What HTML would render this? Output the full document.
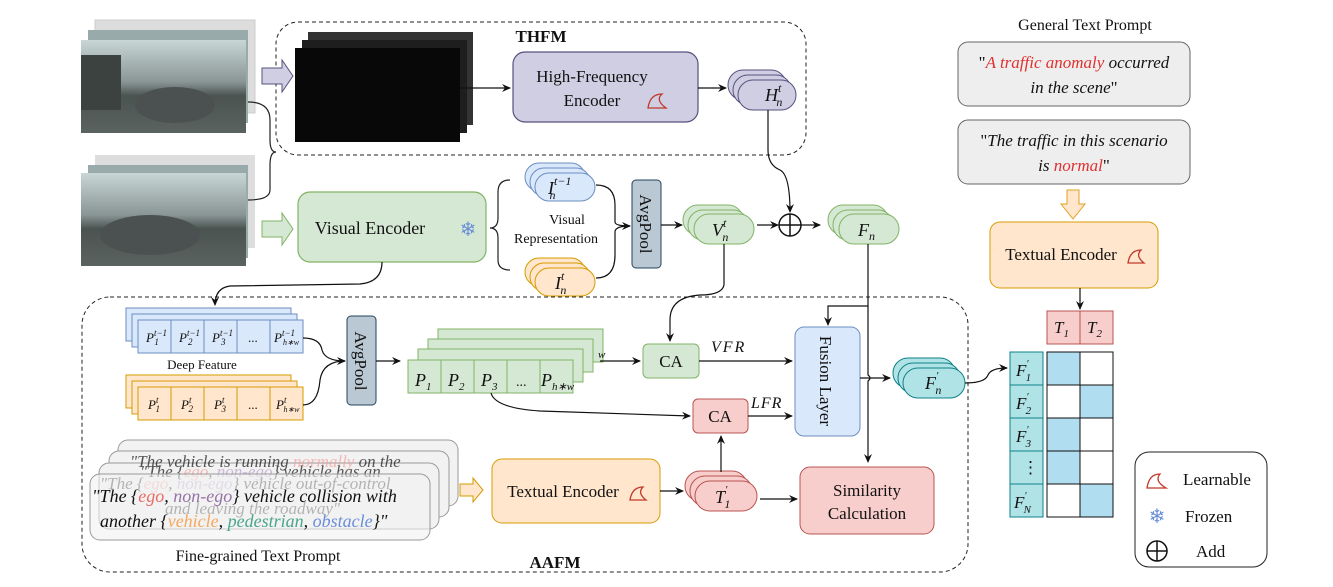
<!DOCTYPE html>
<html><head><meta charset="utf-8"><style>
body{margin:0;background:#fff}
svg text{font-family:"Liberation Serif",serif;fill:#111}
.it{font-style:italic}
</style></head><body>
<svg width="1333" height="582" viewBox="0 0 1333 582" xmlns="http://www.w3.org/2000/svg">
<defs>
<marker id="a" markerWidth="10" markerHeight="10" refX="8" refY="5" orient="auto" markerUnits="userSpaceOnUse"><path d="M0,1 L9,5 L0,9 L3,5 Z" fill="#111"/></marker>
<linearGradient id="sky" x1="0" y1="0" x2="0" y2="1"><stop offset="0" stop-color="#c9d6d6"/><stop offset="0.45" stop-color="#8a9696"/><stop offset="0.6" stop-color="#4a5350"/><stop offset="1" stop-color="#5a6360"/></linearGradient>
</defs>
<!-- camera frames top -->
<rect x="95" y="20" width="160" height="93" fill="#ddd" stroke="#ccc"/>
<rect x="88" y="30" width="160" height="93" fill="#9aa" />
<rect x="81" y="40" width="165" height="93" fill="url(#sky)"/>
<rect x="81" y="55" width="40" height="55" fill="#3c4240"/>
<ellipse cx="175" cy="105" rx="40" ry="18" fill="#4b5150"/>
<rect x="95" y="155" width="160" height="93" fill="#ddd"/>
<rect x="88" y="165" width="160" height="93" fill="#9aa"/>
<rect x="81" y="173" width="165" height="93" fill="url(#sky)"/>
<ellipse cx="150" cy="235" rx="50" ry="20" fill="#4b5150"/>
<!-- brace from images -->
<path d="M248,102 Q270,102 270,120 L270,140 Q270,152 276,152 Q270,152 270,165 L270,190 Q270,200 248,200" fill="none" stroke="#222" stroke-width="1.2"/>
<!-- THFM -->
<rect x="276" y="22" width="530" height="133" rx="22" fill="none" stroke="#222" stroke-dasharray="4,3"/>
<text x="541" y="42" font-weight="bold" font-size="17" text-anchor="middle">THFM</text>
<rect x="308" y="32" width="165" height="93" fill="#333"/>
<rect x="302" y="40" width="165" height="93" fill="#1e1e1e"/>
<rect x="295" y="48" width="165" height="94" fill="#080808"/>
<path d="M262,68 L282,68 L282,60 L293,76 L282,92 L282,84 L262,84 Z" fill="#d0cee3" stroke="#56517e"/>
<line x1="460" y1="88" x2="510" y2="88" stroke="#111" stroke-width="1.2" marker-end="url(#a)"/>
<rect x="513" y="52" width="185" height="70" rx="12" fill="#d0cee3" stroke="#56517e" stroke-width="1.2"/>
<text x="592" y="82" font-size="17" text-anchor="middle">High-Frequency</text>
<text x="592" y="106" font-size="17" text-anchor="middle">Encoder</text>
<path d="M648,108 Q650,94 662,94 Q655,100 666,108 Z" fill="none" stroke="#c0392b" stroke-width="1.3"/>
<line x1="698" y1="88" x2="726" y2="88" stroke="#111" stroke-width="1.2" marker-end="url(#a)"/>
<g fill="#d0cee3" stroke="#56517e"><rect x="728" y="70" width="58" height="30" rx="15"/><rect x="733" y="75" width="58" height="30" rx="15"/><rect x="738" y="80" width="58" height="30" rx="15"/></g>
<text x="765" y="101" font-size="18" class="it">H<tspan font-size="12" dy="-9">t</tspan><tspan font-size="12" dx="-5" dy="14">n</tspan></text>
<path d="M768,110 L768,150 Q768,165 780,170 Q790,175 790,212" fill="none" stroke="#111" stroke-width="1.2" marker-end="url(#a)"/>
<!-- visual encoder -->
<path d="M262,221 L282,221 L282,213 L293,229 L282,245 L282,237 L262,237 Z" fill="#d5e8d4" stroke="#82b366"/>
<rect x="298" y="192" width="188" height="70" rx="12" fill="#d5e8d4" stroke="#82b366" stroke-width="1.2"/>
<text x="370" y="234" font-size="18" text-anchor="middle">Visual Encoder</text>
<text x="468" y="236" font-size="20" fill="#5b7fc9" text-anchor="middle" style="fill:#6a8fd6">❄</text>
<path d="M510,180 Q498,180 498,192 L498,218 Q498,228 490,228 Q498,228 498,238 L498,260 Q498,270 510,270" fill="none" stroke="#222" stroke-width="1.2"/>
<g fill="#dae8fc" stroke="#6c8ebf"><rect x="525" y="163" width="60" height="28" rx="14"/><rect x="530" y="168" width="60" height="28" rx="14"/><rect x="535" y="173" width="60" height="28" rx="14"/></g>
<text x="548" y="194" font-size="18" class="it">I<tspan font-size="12" dy="-9">t−1</tspan><tspan font-size="12" dx="-22" dy="14">n</tspan></text>
<text x="567" y="224" font-size="14" text-anchor="middle">Visual</text>
<text x="556" y="243" font-size="14" text-anchor="middle">Representation</text>
<g fill="#ffe6cc" stroke="#d79b00"><rect x="525" y="258" width="60" height="28" rx="14"/><rect x="530" y="263" width="60" height="28" rx="14"/><rect x="535" y="268" width="60" height="28" rx="14"/></g>
<text x="555" y="289" font-size="18" class="it">I<tspan font-size="12" dy="-9">t</tspan><tspan font-size="12" dx="-4" dy="14">n</tspan></text>
<path d="M596,185 Q615,185 615,205 L615,222 Q615,226 630,226" fill="none" stroke="#111" stroke-width="1.2" marker-end="url(#a)"/>
<path d="M596,278 Q615,278 615,255 L615,232 Q615,226 630,226" fill="none" stroke="#111" stroke-width="1.2"/>
<rect x="632" y="180" width="29" height="88" rx="4" fill="#bac8d3" stroke="#23445d"/>
<text transform="translate(640,224) rotate(90)" font-size="17" text-anchor="middle">AvgPool</text>
<line x1="661" y1="225" x2="682" y2="225" stroke="#111" stroke-width="1.2" marker-end="url(#a)"/>
<g fill="#d5e8d4" stroke="#82b366"><rect x="683" y="205" width="60" height="30" rx="15"/><rect x="688" y="210" width="60" height="30" rx="15"/><rect x="694" y="214" width="60" height="30" rx="15"/></g>
<text x="712" y="236" font-size="18" class="it">V<tspan font-size="12" dy="-9">t</tspan><tspan font-size="12" dx="-4" dy="14">n</tspan></text>
<line x1="757" y1="225" x2="778" y2="225" stroke="#111" stroke-width="1.2" marker-end="url(#a)"/>
<circle cx="790" cy="225" r="11" fill="none" stroke="#111" stroke-width="1.5"/>
<line x1="779" y1="225" x2="801" y2="225" stroke="#111" stroke-width="1.5"/><line x1="790" y1="214" x2="790" y2="236" stroke="#111" stroke-width="1.5"/>
<line x1="801" y1="225" x2="820" y2="225" stroke="#111" stroke-width="1.2" marker-end="url(#a)"/>
<g fill="#d5e8d4" stroke="#82b366"><rect x="828" y="205" width="60" height="30" rx="15"/><rect x="833" y="210" width="60" height="30" rx="15"/><rect x="839" y="214" width="60" height="30" rx="15"/></g>
<text x="858" y="236" font-size="18" class="it">F<tspan font-size="12" dy="4">n</tspan></text>
<!-- AAFM -->
<rect x="82" y="297" width="886" height="275" rx="28" fill="none" stroke="#222" stroke-dasharray="4,3"/>
<text x="555" y="568" font-weight="bold" font-size="17" text-anchor="middle">AAFM</text>
<path d="M382,262 Q382,282 360,284 L230,286 Q215,288 215,305" fill="none" stroke="#111" stroke-width="1.2" marker-end="url(#a)"/>
<!-- deep feature grids -->
<g stroke="#6c8ebf" fill="#dae8fc">
<rect x="126" y="308" width="165" height="33"/><rect x="132" y="314" width="165" height="33"/><rect x="138" y="320" width="165" height="33"/>
</g>
<g stroke="#6c8ebf"><line x1="171" y1="320" x2="171" y2="353"/><line x1="204" y1="320" x2="204" y2="353"/><line x1="237" y1="320" x2="237" y2="353"/><line x1="270" y1="320" x2="270" y2="353"/></g>
<g font-size="13" class="it"><text x="146" y="342">P<tspan font-size="9" dy="-6">t−1</tspan><tspan font-size="9" dx="-12" dy="9">1</tspan></text><text x="179" y="342">P<tspan font-size="9" dy="-6">t−1</tspan><tspan font-size="9" dx="-12" dy="9">2</tspan></text><text x="212" y="342">P<tspan font-size="9" dy="-6">t−1</tspan><tspan font-size="9" dx="-12" dy="9">3</tspan></text><text x="248" y="342" font-style="normal">...</text><text x="274" y="342">P<tspan font-size="9" dy="-6">t−1</tspan><tspan font-size="8" dx="-12" dy="9">h∗w</tspan></text></g>
<text x="202" y="369" font-size="13" text-anchor="middle">Deep Feature</text>
<g stroke="#d79b00" fill="#ffe6cc">
<rect x="126" y="375" width="165" height="33"/><rect x="132" y="381" width="165" height="33"/><rect x="138" y="387" width="165" height="33"/>
</g>
<g stroke="#d79b00"><line x1="171" y1="387" x2="171" y2="420"/><line x1="204" y1="387" x2="204" y2="420"/><line x1="237" y1="387" x2="237" y2="420"/><line x1="270" y1="387" x2="270" y2="420"/></g>
<g font-size="13" class="it"><text x="148" y="409">P<tspan font-size="9" dy="-6">t</tspan><tspan font-size="9" dx="-3" dy="9">1</tspan></text><text x="181" y="409">P<tspan font-size="9" dy="-6">t</tspan><tspan font-size="9" dx="-3" dy="9">2</tspan></text><text x="214" y="409">P<tspan font-size="9" dy="-6">t</tspan><tspan font-size="9" dx="-3" dy="9">3</tspan></text><text x="248" y="409" font-style="normal">...</text><text x="276" y="409">P<tspan font-size="9" dy="-6">t</tspan><tspan font-size="8" dx="-3" dy="9">h∗w</tspan></text></g>
<path d="M303,338 Q320,338 322,350 Q325,361 345,361" fill="none" stroke="#111" stroke-width="1.2" marker-end="url(#a)"/>
<path d="M303,405 Q318,405 320,380 Q323,361 345,361" fill="none" stroke="#111" stroke-width="1.2"/>
<rect x="347" y="316" width="29" height="89" rx="4" fill="#bac8d3" stroke="#23445d"/>
<text transform="translate(355,361) rotate(90)" font-size="17" text-anchor="middle">AvgPool</text>
<line x1="376" y1="361" x2="400" y2="361" stroke="#111" stroke-width="1.2" marker-end="url(#a)"/>
<!-- green grid -->
<g stroke="#82b366" fill="#d5e8d4">
<rect x="438" y="329" width="165" height="33"/><rect x="428" y="339" width="165" height="33"/><rect x="418" y="349" width="165" height="33"/><rect x="408" y="360" width="165" height="33"/>
</g>
<g stroke="#82b366"><line x1="441" y1="360" x2="441" y2="393"/><line x1="474" y1="360" x2="474" y2="393"/><line x1="507" y1="360" x2="507" y2="393"/><line x1="540" y1="360" x2="540" y2="393"/></g>
<g font-size="18" class="it"><text x="415" y="386">P<tspan font-size="11" dy="4">1</tspan></text><text x="448" y="386">P<tspan font-size="11" dy="4">2</tspan></text><text x="481" y="386">P<tspan font-size="11" dy="4">3</tspan></text><text x="516" y="386" font-style="normal" font-size="14">...</text><text x="541" y="386">P<tspan font-size="11" dy="4">h∗w</tspan></text><text x="598" y="358" font-size="11">w</text></g>
<line x1="600" y1="361" x2="640" y2="361" stroke="#111" stroke-width="1.2" marker-end="url(#a)"/>
<path d="M491,393 Q495,408 540,411 L690,416" fill="none" stroke="#111" stroke-width="1.2" marker-end="url(#a)"/>
<path d="M724,244 L724,285 Q722,295 700,295 Q670,297 670,320 L670,341" fill="none" stroke="#111" stroke-width="1.2" marker-end="url(#a)"/>
<rect x="643" y="344" width="56" height="34" rx="5" fill="#d5e8d4" stroke="#82b366"/>
<text x="671" y="367" font-size="17" text-anchor="middle">CA</text>
<line x1="699" y1="361" x2="792" y2="361" stroke="#111" stroke-width="1.2" marker-end="url(#a)"/>
<text x="711" y="352" font-size="16" class="it" letter-spacing="2">VFR</text>
<rect x="693" y="399" width="55" height="34" rx="5" fill="#f8cecc" stroke="#b85450"/>
<text x="720" y="422" font-size="17" text-anchor="middle">CA</text>
<line x1="748" y1="416" x2="792" y2="416" stroke="#111" stroke-width="1.2" marker-end="url(#a)"/>
<text x="751" y="408" font-size="16" class="it" letter-spacing="1">LFR</text>
<rect x="795" y="327" width="65" height="109" rx="9" fill="#dae8fc" stroke="#6c8ebf"/>
<text transform="translate(820,381) rotate(90)" font-size="17" text-anchor="middle">Fusion Layer</text>
<path d="M868,244 L868,306 L828,306 L828,325" fill="none" stroke="#111" stroke-width="1.2" marker-end="url(#a)"/>
<path d="M868,306 L868,375 Q872,378 868,381 L868,462" fill="none" stroke="#111" stroke-width="1.2" marker-end="url(#a)"/>
<line x1="860" y1="378" x2="890" y2="378" stroke="#111" stroke-width="1.2" marker-end="url(#a)"/>
<g fill="#b0e3e6" stroke="#0e8088"><rect x="893" y="358" width="62" height="30" rx="15"/><rect x="898" y="363" width="62" height="30" rx="15"/><rect x="903" y="368" width="62" height="30" rx="15"/></g>
<text x="925" y="389" font-size="18" class="it">F<tspan font-size="11" dy="-10">′</tspan><tspan font-size="12" dx="-3" dy="15">n</tspan></text>
<path d="M965,383 Q985,383 988,375 Q991,368 1007,368" fill="none" stroke="#111" stroke-width="1.2" marker-end="url(#a)"/>
<!-- text prompts -->
<rect x="118" y="440" width="340" height="66" rx="10" fill="#f2f2f2" stroke="#999"/>
<rect x="109" y="451" width="340" height="66" rx="10" fill="#f2f2f2" stroke="#999"/>
<rect x="99" y="463" width="340" height="66" rx="10" fill="#f2f2f2" stroke="#999"/>
<g font-size="17" class="it" fill="#bbb" style="fill:#bbb" opacity="0.7">
<text x="130" y="467" fill="#bbb">"The vehicle is running <tspan fill="#f4a0a0">normally</tspan> on the</text>
<text x="140" y="477" fill="#bbb">"The {<tspan fill="#f4a0a0">ego</tspan>, <tspan fill="#b8a0d0">non-ego</tspan>} vehicle has an</text>
<text x="100" y="489" fill="#bbb">"The {<tspan fill="#f4a0a0">ego</tspan>, <tspan fill="#b8a0d0">non-ego</tspan>} vehicle out-of-control</text>
<text x="165" y="514" fill="#bbb">and leaving the roadway"</text>
</g>
<rect x="90" y="474" width="340" height="66" rx="10" fill="#f2f2f2" fill-opacity="0.6" stroke="#999"/>
<text x="92" y="502" font-size="18" class="it">"The {<tspan style="fill:#ea6b66">ego</tspan>, <tspan style="fill:#9673a6">non-ego</tspan>} vehicle collision with</text>
<text x="100" y="527" font-size="18" class="it">another {<tspan style="fill:#f5a85f">vehicle</tspan>, <tspan style="fill:#4aa58a">pedestrian</tspan>, <tspan style="fill:#6c8ed9">obstacle</tspan>}"</text>
<text x="258" y="561" font-size="16" text-anchor="middle">Fine-grained Text Prompt</text>
<path d="M460,484 L473,484 L473,478 L483,490 L473,502 L473,496 L460,496 Z" fill="#ffe6cc" stroke="#d79b00"/>
<rect x="492" y="459" width="168" height="64" rx="10" fill="#ffe6cc" stroke="#d79b00"/>
<text x="563" y="497" font-size="17" text-anchor="middle">Textual Encoder</text>
<path d="M630,500 Q632,487 643,487 Q637,493 646,500 Z" fill="none" stroke="#c0392b" stroke-width="1.3"/>
<line x1="660" y1="491" x2="683" y2="491" stroke="#111" stroke-width="1.2" marker-end="url(#a)"/>
<g fill="#f8cecc" stroke="#b85450"><rect x="685" y="471" width="62" height="30" rx="15"/><rect x="690" y="476" width="62" height="30" rx="15"/><rect x="695" y="481" width="62" height="30" rx="15"/></g>
<text x="715" y="503" font-size="18" class="it">T<tspan font-size="11" dy="-10">′</tspan><tspan font-size="12" dx="-3" dy="15">1</tspan></text>
<line x1="721" y1="472" x2="721" y2="436" stroke="#111" stroke-width="1.2" marker-end="url(#a)"/>
<line x1="760" y1="499" x2="797" y2="499" stroke="#111" stroke-width="1.2" marker-end="url(#a)"/>
<rect x="800" y="467" width="134" height="67" rx="10" fill="#f8cecc" stroke="#b85450"/>
<text x="867" y="496" font-size="17" text-anchor="middle">Similarity</text>
<text x="867" y="519" font-size="17" text-anchor="middle">Calculation</text>
<!-- right side -->
<text x="1085" y="30" font-size="16" text-anchor="middle">General Text Prompt</text>
<rect x="958" y="42" width="232" height="64" rx="10" fill="#eee" stroke="#666"/>
<text x="1074" y="68" font-size="17" text-anchor="middle">"<tspan class="it" style="fill:#e03030">A traffic anomaly</tspan><tspan class="it"> occurred</tspan></text>
<text x="1074" y="93" font-size="17" text-anchor="middle" class="it">in the scene<tspan font-style="normal">"</tspan></text>
<rect x="958" y="120" width="232" height="64" rx="10" fill="#eee" stroke="#666"/>
<text x="1074" y="146" font-size="17" text-anchor="middle">"<tspan class="it">The traffic in this scenario</tspan></text>
<text x="1074" y="171" font-size="17" text-anchor="middle" class="it">is <tspan style="fill:#e03030">normal</tspan><tspan font-style="normal">"</tspan></text>
<path d="M1067,190 L1079,190 L1079,204 L1085,204 L1073,219 L1061,204 L1067,204 Z" fill="#ffe6cc" stroke="#e0a020"/>
<rect x="990" y="222" width="168" height="66" rx="10" fill="#ffe6cc" stroke="#d79b00"/>
<text x="1061" y="260" font-size="17" text-anchor="middle">Textual Encoder</text>
<path d="M1128,263 Q1130,250 1141,250 Q1135,256 1144,263 Z" fill="none" stroke="#c0392b" stroke-width="1.3"/>
<line x1="1080" y1="288" x2="1080" y2="309" stroke="#111" stroke-width="1.2" marker-end="url(#a)"/>
<rect x="1047" y="311" width="33" height="33" fill="#f8cecc" stroke="#b85450"/><rect x="1080" y="311" width="33" height="33" fill="#f8cecc" stroke="#b85450"/>
<text x="1054" y="333" font-size="17" class="it">T<tspan font-size="11" dy="4">1</tspan></text><text x="1087" y="333" font-size="17" class="it">T<tspan font-size="11" dy="4">2</tspan></text>
<g stroke="#0e8088" fill="#b0e3e6">
<rect x="1010" y="352" width="33" height="33"/><rect x="1010" y="385" width="33" height="33"/><rect x="1010" y="418" width="33" height="33"/><rect x="1010" y="451" width="33" height="33"/><rect x="1010" y="484" width="33" height="33"/>
</g>
<g stroke="#111">
<rect x="1047" y="352" width="33" height="33" fill="#b1ddf0"/><rect x="1080" y="352" width="33" height="33" fill="#fff"/>
<rect x="1047" y="385" width="33" height="33" fill="#fff"/><rect x="1080" y="385" width="33" height="33" fill="#b1ddf0"/>
<rect x="1047" y="418" width="33" height="33" fill="#b1ddf0"/><rect x="1080" y="418" width="33" height="33" fill="#fff"/>
<rect x="1047" y="451" width="33" height="33" fill="#b1ddf0"/><rect x="1080" y="451" width="33" height="33" fill="#fff"/>
<rect x="1047" y="484" width="33" height="33" fill="#fff"/><rect x="1080" y="484" width="33" height="33" fill="#b1ddf0"/>
</g>
<g font-size="17" class="it">
<text x="1016" y="376">F<tspan font-size="10" dy="-9">′</tspan><tspan font-size="11" dx="-3" dy="14">1</tspan></text>
<text x="1016" y="409">F<tspan font-size="10" dy="-9">′</tspan><tspan font-size="11" dx="-3" dy="14">2</tspan></text>
<text x="1016" y="442">F<tspan font-size="10" dy="-9">′</tspan><tspan font-size="11" dx="-3" dy="14">3</tspan></text>
<text x="1022" y="473" font-style="normal">⋮</text>
<text x="1014" y="508">F<tspan font-size="10" dy="-9">′</tspan><tspan font-size="11" dx="-3" dy="14">N</tspan></text>
</g>
<!-- legend -->
<rect x="1135" y="452" width="132" height="115" rx="14" fill="#fff" stroke="#222"/>
<path d="M1147,488 Q1149,474 1160,474 Q1154,481 1166,488 Z" fill="none" stroke="#c0392b" stroke-width="1.3"/>
<text x="1183" y="485" font-size="17">Learnable</text>
<text x="1157" y="523" font-size="20" text-anchor="middle" style="fill:#6a8fd6">❄</text>
<text x="1185" y="522" font-size="17">Frozen</text>
<circle cx="1157" cy="551" r="10" fill="none" stroke="#111" stroke-width="1.5"/>
<line x1="1147" y1="551" x2="1167" y2="551" stroke="#111" stroke-width="1.5"/><line x1="1157" y1="541" x2="1157" y2="561" stroke="#111" stroke-width="1.5"/>
<text x="1196" y="557" font-size="17">Add</text>
</svg>
</body></html>
